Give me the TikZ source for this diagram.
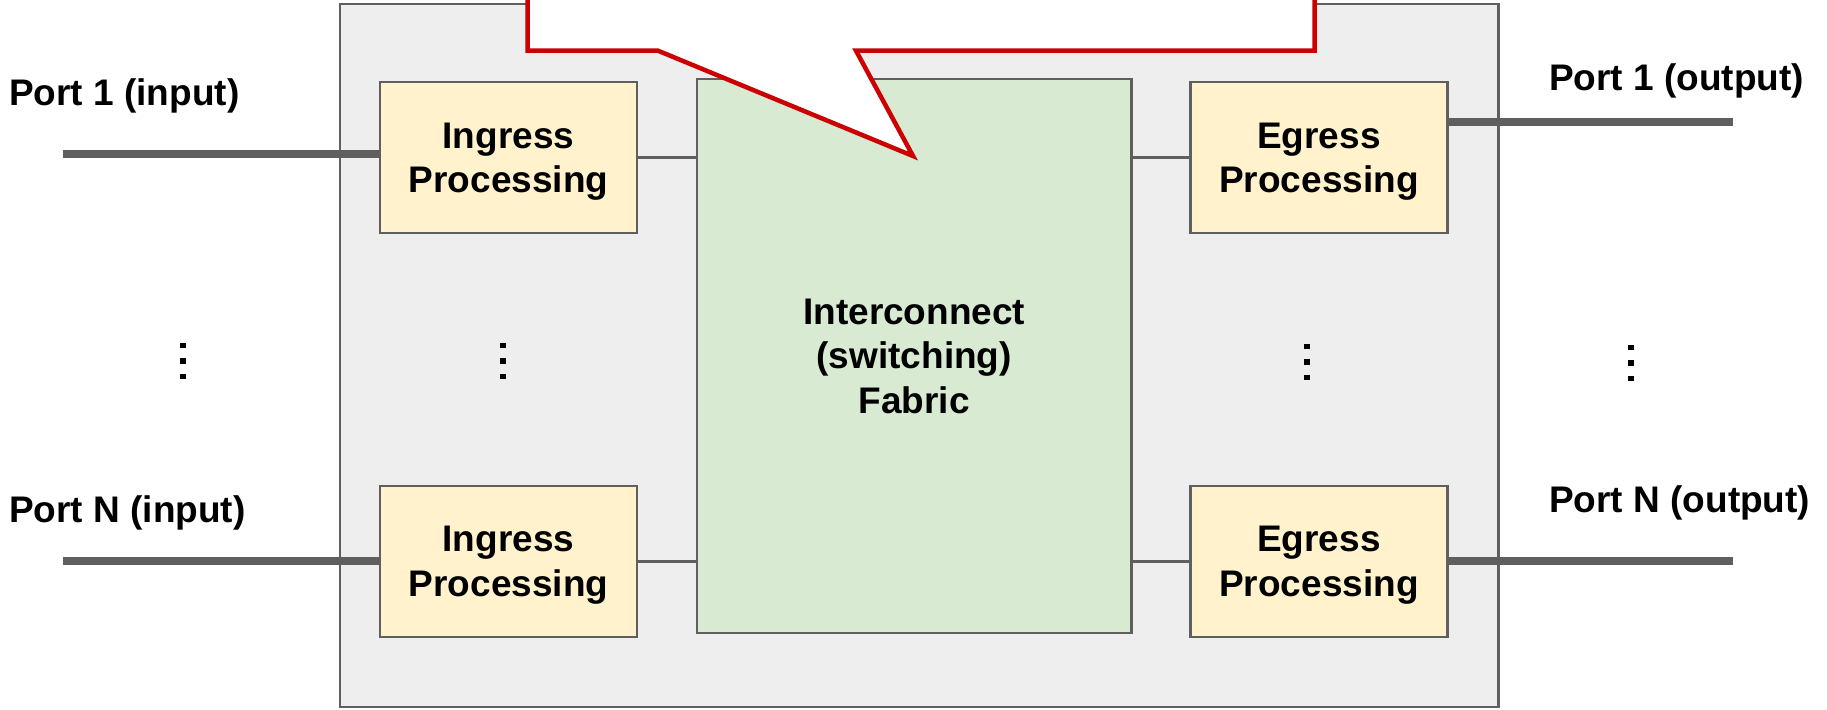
\documentclass[tikz,border=0pt]{standalone}
\usepackage{fontspec}
\setmainfont{Liberation Sans}
\definecolor{boxfill}{HTML}{FFF2CC}
\definecolor{fabfill}{HTML}{D9EAD3}
\definecolor{outerfill}{HTML}{EEEEEE}
\definecolor{edge}{HTML}{5F5F5F}
\definecolor{callred}{HTML}{CC0000}
\tikzset{
  txt/.style={font=\bfseries\fontsize{37}{44.5}\selectfont, align=center, text depth=0pt},
  outerbox/.style={draw=edge, line width=2.5pt, fill=outerfill, inner sep=0pt},
  procbox/.style={txt, draw=edge, line width=2.5pt, fill=boxfill, inner sep=0pt, minimum width=257, minimum height=151},
  fabbox/.style={txt, draw=edge, line width=2.5pt, fill=fabfill, inner sep=0pt, minimum width=434.5, minimum height=554},
  lbl/.style={font=\bfseries\fontsize{37}{44.5}\selectfont, inner sep=0pt, anchor=base west},
  portline/.style={draw=edge, line width=8pt},
  thinline/.style={draw=edge, line width=3pt},
  callout/.style={draw=callred, line width=4.5pt, fill=white},
  dotsq/.style={fill=black}
}
\begin{document}
\begin{tikzpicture}[x=1pt,y=-1pt]
\useasboundingbox (0,0) rectangle (1827,709);
\clip (0,0) rectangle (1827,709);
% outer switch box
\node[outerbox, minimum width=1158.5, minimum height=703] (sw) at (919.25,355.5) {};
% processing blocks
\node[procbox] (ing1) at (508.5,157.7) {Ingress\\Processing};
\node[procbox] (ing2) at (508.5,561.3) {Ingress\\Processing};
\node[procbox] (eg1) at (1319,157.7) {Egress\\Processing};
\node[procbox] (eg2) at (1319,561.3) {Egress\\Processing};
\node[fabbox] (fab) at (914.25,356) {Interconnect\\(switching)\\Fabric};
% port labels
\node[lbl] (p1in) at (9,105) {Port 1 (input)};
\node[lbl] (pNin) at (9,522) {Port N (input)};
\node[lbl] (p1out) at (1549,90.5) {Port 1 (output)};
\node[lbl] (pNout) at (1549,512) {Port N (output)};
% free ends of port lines
\coordinate (in1) at (63.4,153.5);
\coordinate (inN) at (63.4,561);
\coordinate (out1) at (1733,122);
\coordinate (outN) at (1733,561);
% port lines
\draw[portline] (in1) -- (in1 -| ing1.west);
\draw[portline] (inN) -- (inN -| ing2.west);
\draw[portline] (out1 -| eg1.east) -- (out1);
\draw[portline] (outN -| eg2.east) -- (outN);
% internal connectors
\draw[thinline] (ing1.east) -- (ing1.east -| fab.west);
\draw[thinline] (ing2.east) -- (ing2.east -| fab.west);
\draw[thinline] (eg1.west -| fab.east) -- (eg1.west);
\draw[thinline] (eg2.west -| fab.east) -- (eg2.west);
% vertical ellipses
\foreach \x/\y in {183/361, 503/361, 1307/362, 1631/363}{
  \foreach \d in {-15.5,0,15.5}{
    \fill[dotsq] (\x-2.9,\y+\d-2.9) rectangle (\x+2.9,\y+\d+2.9);
  }
}
% callout
\draw[callout, line join=miter] (527.7,-20) -- (527.7,50.7) -- (658,50.7) -- (913,156) -- (856,50.7) -- (1314.7,50.7) -- (1314.7,-20) -- cycle;
\end{tikzpicture}
\end{document}
